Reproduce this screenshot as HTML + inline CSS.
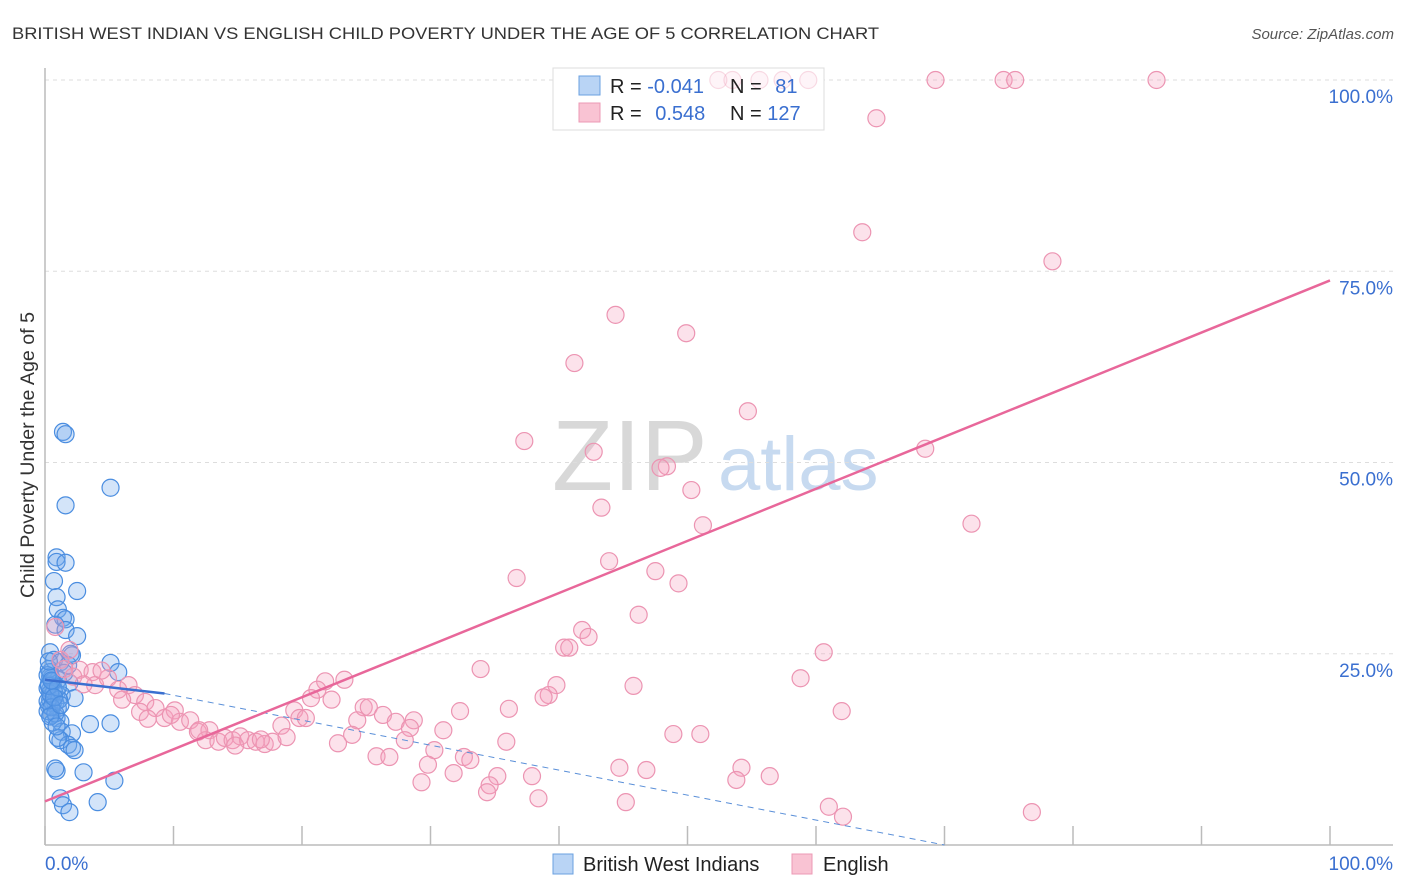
<!DOCTYPE html>
<html><head><meta charset="utf-8">
<style>
body{margin:0;background:#fff;font-family:"Liberation Sans",sans-serif;}
#wrap{position:relative;width:1406px;height:892px;overflow:hidden;}
svg text{font-family:"Liberation Sans",sans-serif;}
</style></head>
<body>
<div id="wrap">
<svg id="chart" width="1406" height="892" xmlns="http://www.w3.org/2000/svg">
<text x="12" y="39" font-size="17" fill="#333" textLength="867" lengthAdjust="spacingAndGlyphs">BRITISH WEST INDIAN VS ENGLISH CHILD POVERTY UNDER THE AGE OF 5 CORRELATION CHART</text>
<text x="1394" y="39" font-size="15" fill="#555" font-style="italic" text-anchor="end">Source: ZipAtlas.com</text>
<text x="34" y="455" font-size="19" fill="#333" text-anchor="middle" textLength="286" lengthAdjust="spacingAndGlyphs" transform="rotate(-90 34 455)">Child Poverty Under the Age of 5</text>
<g>
<text x="552" y="490" font-size="100" fill="#d8d8d8" font-family="Liberation Serif">ZIP</text>
<text x="718" y="490" font-size="76" fill="#c7daf0">atlas</text>
</g>
<g id="grid"></g>
<g id="axes"></g>
<g>
<rect x="553" y="68" width="271" height="62" fill="#fff" stroke="#ddd"/>
<rect x="579" y="76" width="21" height="19" fill="#b9d4f5" stroke="#6aa0e0"/>
<rect x="579" y="103" width="21" height="19" fill="#f9c3d3" stroke="#ec9ab5"/>
</g>
<g id="blue"></g>
<g id="pink"></g>
<g id="trends"></g>
<g>
<text x="610" y="93" font-size="20" fill="#222">R = <tspan fill="#3a6fd0">-0.041</tspan></text>
<text x="730" y="93" font-size="20" fill="#222">N = <tspan fill="#3a6fd0" dx="8">81</tspan></text>
<text x="610" y="120" font-size="20" fill="#222">R = <tspan fill="#3a6fd0" dx="8">0.548</tspan></text>
<text x="730" y="120" font-size="20" fill="#222">N = <tspan fill="#3a6fd0">127</tspan></text>
</g>
<g>
<rect x="553" y="854" width="20" height="20" fill="#b9d4f5" stroke="#6aa0e0"/>
<text x="583" y="871" font-size="20" fill="#222">British West Indians</text>
<rect x="792" y="854" width="20" height="20" fill="#f9c3d3" stroke="#ec9ab5"/>
<text x="823" y="871" font-size="20" fill="#222">English</text>
</g>
</svg>
</div>
<script>
const yTicks=[25,50,75,100];
const yTickLabels=["25.0%","50.0%","75.0%","100.0%"];
const xTickValues=[0,10,20,30,40,50,60,70,80,90,100];
const blueX=[1.4,1.6,5.1,1.6,0.9,0.9,1.6,2.5,0.7,0.9,1.0,1.4,1.6,0.8,1.6,2.5,0.4,2.1,0.7,1.2,1.8,5.1,5.7,0.4,0.5,1.0,1.9,0.4,0.9,1.3,0.4,0.8,2.3,0.3,1.0,0.5,0.9,1.2,3.5,5.1,1.3,2.1,1.2,1.8,2.1,2.3,0.9,3.0,5.4,1.2,1.4,1.9,4.1,0.2,0.3,0.5,0.6,0.2,0.4,0.7,0.3,1.1,0.6,1.5,2.0,1.0,0.8,0.2,0.4,0.6,0.3,0.5,0.8,1.0,0.2,0.4,0.7,1.2,0.3,0.5,0.9];
const blueY=[54.0,53.7,46.7,44.4,37.6,37.0,36.9,33.2,34.5,32.4,30.8,29.7,29.5,28.8,28.1,27.3,25.2,24.8,24.2,23.9,23.5,23.8,22.6,22.6,21.8,21.6,21.2,20.3,19.9,19.6,19.0,18.6,19.2,18.2,17.9,17.0,16.6,16.1,15.8,15.9,14.8,14.6,13.7,13.1,12.7,12.4,9.7,9.5,8.4,6.1,5.2,4.3,5.6,20.5,21.0,19.5,18.5,17.5,22.0,20.0,23.0,19.0,16.0,22.5,25.0,14.0,10.0,18.8,19.8,21.4,20.8,18.0,17.2,20.6,22.2,16.8,19.3,18.3,24.0,21.5,15.5];
const pinkX=[52.4,53.5,55.6,57.4,59.4,69.3,74.6,75.5,86.5,64.7,63.6,78.4,44.4,49.9,41.2,54.7,37.3,42.7,68.5,48.4,47.9,50.3,43.3,51.2,72.1,43.9,47.5,36.7,49.3,46.2,41.8,42.3,40.4,40.8,60.6,33.9,58.8,45.8,39.8,39.2,38.8,32.3,36.1,62.0,21.8,23.3,21.2,20.7,22.3,19.4,24.8,25.2,26.3,24.3,27.3,28.7,28.4,31.0,19.8,20.3,18.4,23.9,22.8,28.0,30.3,35.9,25.8,26.8,32.6,33.1,29.8,44.7,46.8,54.2,53.8,56.4,31.8,35.2,37.9,29.3,34.6,34.4,38.4,45.2,61.0,62.1,76.8,48.9,51.0,1.2,1.9,2.7,3.7,3.9,4.9,5.7,6.5,7.0,7.8,8.6,7.4,9.3,10.1,10.5,11.3,11.9,12.8,12.5,13.5,14.0,14.6,15.2,15.8,16.4,17.1,17.7,18.8,0.8,1.5,2.2,3.0,4.4,6.0,8.0,9.8,12.0,14.8,16.8];
const pinkY=[100,100,100,100,100,100,100,100,100,95.0,80.1,76.3,69.3,66.9,63.0,56.7,52.8,51.4,51.8,49.5,49.3,46.4,44.1,41.8,42.0,37.1,35.8,34.9,34.2,30.1,28.1,27.2,25.8,25.8,25.2,23.0,21.8,20.8,20.9,19.6,19.3,17.5,17.8,17.5,21.4,21.6,20.3,19.2,19.0,17.6,18.0,18.0,17.0,16.3,16.1,16.3,15.3,15.0,16.6,16.6,15.6,14.4,13.3,13.7,12.4,13.5,11.6,11.5,11.5,11.1,10.5,10.1,9.8,10.1,8.5,9.0,9.4,9.0,9.0,8.2,7.8,6.9,6.1,5.6,5.0,3.7,4.3,14.5,14.5,24.2,25.5,22.9,22.6,20.9,21.8,20.3,20.9,19.6,18.7,17.9,17.4,16.6,17.6,16.1,16.3,14.8,15.0,13.7,13.5,14.0,13.7,14.2,13.7,13.5,13.2,13.5,14.1,28.5,23.0,22.0,21.0,22.8,19.0,16.5,17.0,15.0,13.0,13.8];
const blueTrend=[[0,21.6],[9.3,19.8],[70,0]];
const pinkTrend=[[0,5.7],[100,73.8]];
const NS="http://www.w3.org/2000/svg";
const X0=45,X1=1330,Y0=845,Y1=80;
function sx(v){return X0+(X1-X0)*v/100;}
function sy(v){return Y0-(Y0-Y1)*v/100;}
function mk(tag,attrs,parent){const e=document.createElementNS(NS,tag);for(const k in attrs)e.setAttribute(k,attrs[k]);document.getElementById(parent).appendChild(e);return e;}
yTicks.forEach((t,i)=>{
 const l=mk('line',{x1:X0,x2:1393,y1:sy(t),y2:sy(t),stroke:'#ddd','stroke-dasharray':'4,4'},'grid');
 
 
 const tx=mk('text',{x:1393,y:sy(t)+23,'font-size':19,fill:'#3a6fd0','text-anchor':'end'},'grid');
 tx.textContent=yTickLabels[i];
 
 
});
let a=mk('line',{x1:X0,x2:X0,y1:68,y2:Y0,stroke:'#bbb','stroke-width':1.5},'axes');


a=mk('line',{x1:X0,x2:1393,y1:Y0,y2:Y0,stroke:'#bbb','stroke-width':1.5},'axes');


xTickValues.forEach(t=>{
 const l=mk('line',{x1:sx(t),x2:sx(t),y1:Y0-19,y2:Y0,stroke:'#bbb','stroke-width':1.5},'axes');
 
 
});
let t0=mk('text',{x:X0,y:870,'font-size':19,fill:'#3a6fd0'},'axes');t0.textContent='0.0%';


let t1=mk('text',{x:1393,y:870,'font-size':19,fill:'#3a6fd0','text-anchor':'end'},'axes');t1.textContent='100.0%';


blueX.forEach((v,i)=>{
 const c=mk('circle',{cx:sx(v),cy:sy(blueY[i]),r:8.5,fill:'rgba(110,165,235,0.3)',stroke:'#4a8de0','stroke-width':1.2},'blue');
 
 
});
pinkX.forEach((v,i)=>{
 const c=mk('circle',{cx:sx(v),cy:sy(pinkY[i]),r:8.5,fill:'rgba(245,160,190,0.3)',stroke:'#ec94b2','stroke-width':1.2},'pink');
 
 
 if(pinkY[i]>=99 && sx(v)>553 && sx(v)<824){c.setAttribute('opacity','0.35');}
});
let b1=mk('line',{x1:sx(blueTrend[0][0]),y1:sy(blueTrend[0][1]),x2:sx(blueTrend[1][0]),y2:sy(blueTrend[1][1]),stroke:'#3a6fd0','stroke-width':2.5},'trends');


let b2=mk('line',{x1:sx(blueTrend[1][0]),y1:sy(blueTrend[1][1]),x2:sx(blueTrend[2][0]),y2:sy(blueTrend[2][1]),stroke:'#5a8fd8','stroke-width':1,'stroke-dasharray':'6,5'},'trends');


let p=mk('line',{x1:sx(pinkTrend[0][0]),y1:sy(pinkTrend[0][1]),x2:sx(pinkTrend[1][0]),y2:sy(pinkTrend[1][1]),stroke:'#e8679a','stroke-width':2.5},'trends');


</script>
</body></html>
